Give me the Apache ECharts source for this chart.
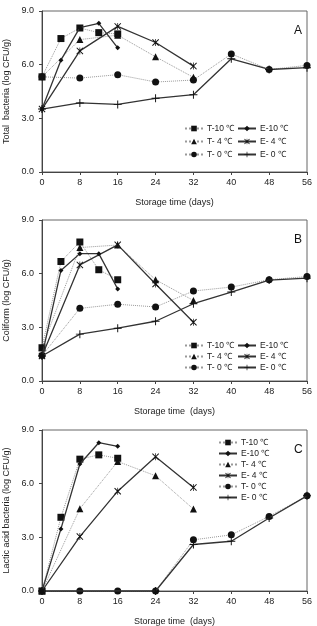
<!DOCTYPE html>
<html>
<head>
<meta charset="utf-8">
<title>storage</title>
<script src="https://cdn.jsdelivr.net/npm/echarts@6/dist/echarts.min.js"></script>
<style>
  *{margin:0;padding:0;}
  body{background:#fff;}
  #main{width:317px;height:626px;}
</style>
</head>
<body>
<div id="main"></div>
<script>
// x ticks and names
var xTicks = [0, 8, 16, 24, 32, 40, 48, 56];
var names = ['T-10 ℃', 'E-10 ℃', 'T- 4 ℃', 'E- 4 ℃', 'T- 0 ℃', 'E- 0 ℃'];

// panel A: total bacteria  [day, log CFU/g]
var aT10 = [[0,5.32],[4,7.46],[8,8.05],[12,7.79],[16,7.72]];
var aT4  = [[0,5.32],[8,7.40],[16,7.65],[24,6.44],[32,5.29]];
var aT0  = [[0,5.32],[8,5.25],[16,5.44],[24,5.03],[32,5.14],[40,6.60],[48,5.73],[56,5.96]];
var aE10 = [[0,3.52],[4,6.25],[8,8.07],[12,8.31],[16,6.94]];
var aE4  = [[0,3.52],[8,6.77],[16,8.14],[24,7.24],[32,5.92]];
var aE0  = [[0,3.52],[8,3.86],[16,3.78],[24,4.12],[32,4.32],[40,6.33],[48,5.73],[56,5.83]];

// panel B: coliform
var bT10 = [[0,1.86],[4,6.68],[8,7.77],[12,6.22],[16,5.66]];
var bT4  = [[0,1.86],[8,7.46],[16,7.60],[24,5.66],[32,4.50]];
var bT0  = [[0,1.42],[8,4.06],[16,4.29],[24,4.14],[32,5.03],[40,5.25],[48,5.66],[56,5.84]];
var bE10 = [[0,1.40],[4,6.18],[8,7.12],[12,7.12],[16,5.14]];
var bE4  = [[0,1.40],[8,6.49],[16,7.61],[24,5.42],[32,3.28]];
var bE0  = [[0,1.40],[8,2.62],[16,2.95],[24,3.34],[32,4.32],[40,4.97],[48,5.64],[56,5.75]];

// panel C: lactic acid bacteria
var cT10 = [[0,0],[4,4.12],[8,7.37],[12,7.61],[16,7.42]];
var cT4  = [[0,0],[8,4.60],[16,7.24],[24,6.44],[32,4.58]];
var cT0  = [[0,0],[8,0],[16,0],[24,0],[32,2.86],[40,3.14],[48,4.17],[56,5.32]];
var cE10 = [[0,0],[4,3.47],[8,7.10],[12,8.29],[16,8.09]];
var cE4  = [[0,0],[8,3.04],[16,5.58],[24,7.50],[32,5.79]];
var cE0  = [[0,0],[24,0],[32,2.60],[40,2.78],[48,4.08],[56,5.32]];

var yNames = ['Total  bacteria (log CFU/g)', 'Coliform (log CFU/g)', 'Lactic acid bacteria (log CFU/g)'];
var xNames = ['Storage time (days)', 'Storage time  (days)', 'Storage time  (days)'];
var letters = ['A', 'B', 'C'];

// thin filled shapes for the plus and star markers
var plusPath = 'path://M4.4,0 L5.6,0 L5.6,4.4 L10,4.4 L10,5.6 L5.6,5.6 L5.6,10 L4.4,10 L4.4,5.6 L0,5.6 L0,4.4 L4.4,4.4 Z';
var starPath = 'path://M0,1 L1,0 L5,4 L9,0 L10,1 L6,5 L10,9 L9,10 L5,6 L1,10 L0,9 L4,5 Z M4.5,0 L5.5,0 L5.5,10 L4.5,10 Z';

var styles = {
  'T-10 ℃': {symbol:'rect', size:7, dot:true},
  'T- 4 ℃': {symbol:'triangle', size:7, dot:true},
  'T- 0 ℃': {symbol:'circle', size:7, dot:true},
  'E-10 ℃': {symbol:'diamond', size:5, dot:false},
  'E- 4 ℃': {symbol:starPath, size:7, dot:false},
  'E- 0 ℃': {symbol:plusPath, size:8, dot:false}
};

var panels = [
  [aT10, aE10, aT4, aE4, aT0, aE0],
  [bT10, bE10, bT4, bE4, bT0, bE0],
  [cT10, cE10, cT4, cE4, cT0, cE0]
];
var tops = [11, 220, 430];

var grids = [], xAxes = [], yAxes = [], series = [], titles = [], legends = [];
var font = 'Liberation Sans, Arial, sans-serif';

for (var p = 0; p < 3; p++) {
  grids.push({left: 42, width: 265, top: tops[p], height: 161, show: true,
    outerBoundsMode: 'none', containLabel: false,
    borderColor: '#666', borderWidth: 1, backgroundColor: 'transparent'});
  xAxes.push({type: 'value', gridIndex: p, min: 0, max: 56, interval: 8,
    name: xNames[p], nameLocation: 'middle', nameGap: 26,
    nameTextStyle: {fontSize: 9, color: '#222', fontFamily: font},
    axisLine: {lineStyle: {color: '#444'}},
    axisTick: {show: true, length: 3, lineStyle: {color: '#444'}},
    axisLabel: {fontSize: 9, color: '#222', fontFamily: font, margin: 6},
    splitLine: {show: false}});
  yAxes.push({type: 'value', gridIndex: p, min: 0, max: 9, interval: 3,
    name: yNames[p], nameLocation: 'middle', nameGap: 30,
    nameTextStyle: {fontSize: 9, color: '#222', fontFamily: font},
    axisLine: {show: true, lineStyle: {color: '#444'}},
    axisTick: {show: true, length: 3, lineStyle: {color: '#444'}},
    axisLabel: {fontSize: 9, color: '#222', fontFamily: font, margin: 8,
      formatter: function (v) { return v.toFixed(1); }},
    splitLine: {show: false}});
  titles.push({text: letters[p], left: 289, top: tops[p] + 9,
    textStyle: {fontSize: 12, fontWeight: 'normal', color: '#111', fontFamily: font}});

  for (var i = 0; i < 6; i++) {
    var nm = names[i], st = styles[nm];
    series.push({
      name: nm, type: 'line', xAxisIndex: p, yAxisIndex: p,
      data: panels[p][i], symbol: st.symbol, symbolSize: st.size,
      showAllSymbol: true, animation: false, z: st.dot ? 2 : 3,
      lineStyle: {type: st.dot ? 'dotted' : 'solid', color: st.dot ? '#999' : '#333', width: st.dot ? 1 : 1.3},
      itemStyle: {color: '#111', borderWidth: 0}
    });
  }
}

// legend positions
var legPos = [
  [[184,124],[237,124],[184,137],[237,137],[184,150],[237,150]],
  [[184,341],[237,341],[184,352],[237,352],[184,363],[237,363]],
  [[218,438],[218,449],[218,460],[218,471],[218,482],[218,493]]
];
for (var p2 = 0; p2 < 3; p2++) {
  for (var k = 0; k < 6; k++) {
    legends.push({data: [names[k]], left: legPos[p2][k][0], top: legPos[p2][k][1],
      padding: 0, itemWidth: 18, itemHeight: 7, itemGap: 3, selectedMode: false,
      textStyle: {fontSize: 8.5, color: '#222', fontFamily: font, padding: [0,0,0,-1]}});
  }
}

var myChart = echarts.init(document.getElementById('main'));
var option = {
  backgroundColor: '#fff',
  animation: false,
  title: titles,
  legend: legends,
  grid: grids,
  xAxis: xAxes,
  yAxis: yAxes,
  series: series
};
myChart.setOption(option);
</script>
</body>
</html>
